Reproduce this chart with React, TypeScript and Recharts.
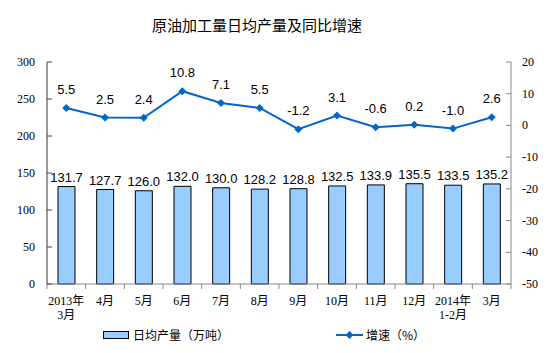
import React from "react";
import { ComposedChart, Bar, Line, XAxis, YAxis, LabelList } from "recharts";

const categories = ["2013年\n3月", "4月", "5月", "6月", "7月", "8月", "9月", "10月", "11月", "12月", "2014年\n1-2月", "3月"];
const dailyOutput = [131.7, 127.7, 126.0, 132.0, 130.0, 128.2, 128.8, 132.5, 133.9, 135.5, 133.5, 135.2];
const growth = [5.5, 2.5, 2.4, 10.8, 7.1, 5.5, -1.2, 3.1, -0.6, 0.2, -1.0, 2.6];
const leftTicks = [0, 50, 100, 150, 200, 250, 300];
const rightTicks = [-50, -40, -30, -20, -10, 0, 10, 20];

const data = categories.map((c, i) => ({ name: c, output: dailyOutput[i], growth: growth[i] }));

const SERIF = "'Liberation Serif', 'Noto Sans CJK SC', serif";
const SANS = "'Liberation Sans', Arial, sans-serif";
const CJK = "'Noto Sans CJK SC', sans-serif";

const LeftTick = (props: any) => {
  const { x, y, payload } = props;
  return (
    <g>
      <line x1={x + 12} x2={x + 17} y1={y} y2={y} stroke="#444" />
      <text x={x} y={y} dy={4} textAnchor="end" fontSize={12} fontFamily={SERIF} fill="#000">
        {payload.value}
      </text>
    </g>
  );
};

const RightTick = (props: any) => {
  const { x, y, payload } = props;
  return (
    <g>
      <line x1={x - 11} x2={x - 16} y1={y} y2={y} stroke="#888" />
      <text x={x} y={y} dy={4} textAnchor="start" fontSize={12} fontFamily={SERIF} fill="#000">
        {payload.value}
      </text>
    </g>
  );
};

const XTick = (props: any) => {
  const { x, y, payload, index, width } = props;
  const bw = (width || 464) / categories.length;
  const lines = String(payload.value).split("\n");
  const axisY = y - 6;
  return (
    <g>
      <line x1={x - bw / 2} x2={x - bw / 2} y1={axisY} y2={axisY + 5} stroke="#888" />
      {index === categories.length - 1 && (
        <line x1={x + bw / 2} x2={x + bw / 2} y1={axisY} y2={axisY + 5} stroke="#888" />
      )}
      {lines.map((l, i) => (
        <text key={i} x={x} y={axisY + 21 + i * 14} textAnchor="middle" fontSize={12} fontFamily={SERIF} fill="#000">
          {l}
        </text>
      ))}
    </g>
  );
};

const Diamond = (props: any) => {
  const { cx, cy } = props;
  if (cx == null || cy == null) return null;
  const r = 4;
  return <path d={`M${cx},${cy - r}L${cx + r},${cy}L${cx},${cy + r}L${cx - r},${cy}Z`} fill="#0066CC" />;
};

export default function App() {
  return (
    <div style={{ position: "absolute", left: 0, top: 0, width: 554, height: 353, background: "#fff" }}>
      <div
        style={{
          position: "absolute",
          left: 0,
          width: 514,
          top: 14,
          textAlign: "center",
          fontFamily: CJK,
          fontSize: 15,
          color: "#000",
          lineHeight: "22px",
        }}
      >
        原油加工量日均产量及同比增速
      </div>
      <ComposedChart
        width={554}
        height={353}
        data={data}
        margin={{ top: 62, right: 0, bottom: 0, left: 0 }}
      >
        <XAxis
          dataKey="name"
          xAxisId="x"
          interval={0}
          height={69}
          axisLine={{ stroke: "#888" }}
          tickLine={false}
          tickSize={0}
          tickMargin={6}
          tick={<XTick />}
        />
        <YAxis
          yAxisId="left"
          orientation="left"
          width={47}
          domain={[0, 300]}
          ticks={leftTicks}
          interval={0}
          axisLine={{ stroke: "#333" }}
          tickLine={false}
          tickSize={0}
          tickMargin={12}
          tick={<LeftTick />}
        />
        <YAxis
          yAxisId="right"
          orientation="right"
          width={43}
          domain={[-50, 20]}
          ticks={rightTicks}
          interval={0}
          axisLine={{ stroke: "#888" }}
          tickLine={false}
          tickSize={0}
          tickMargin={11}
          tick={<RightTick />}
        />
        <Bar
          dataKey="output"
          xAxisId="x"
          yAxisId="left"
          barSize={17}
          fill="#99CCFF"
          stroke="#000"
          strokeWidth={1}
          isAnimationActive={false}
        >
          <LabelList
            dataKey="output"
            position="top"
            offset={5}
            formatter={(v: any) => Number(v).toFixed(1)}
            style={{ fontSize: 13, fontFamily: SANS, fill: "#000" }}
          />
        </Bar>
        <Line
          dataKey="growth"
          xAxisId="x"
          yAxisId="right"
          stroke="#0066CC"
          strokeWidth={2}
          dot={<Diamond />}
          activeDot={false}
          isAnimationActive={false}
        >
          <LabelList
            dataKey="growth"
            position="top"
            offset={14}
            formatter={(v: any) => Number(v).toFixed(1)}
            style={{ fontSize: 13, fontFamily: SANS, fill: "#000" }}
          />
        </Line>
      </ComposedChart>
      <div style={{ position: "absolute", left: 103, top: 331, width: 24, height: 6, background: "#99CCFF", border: "1px solid #000" }} />
      <div style={{ position: "absolute", left: 133, top: 326, fontFamily: CJK, fontSize: 12, lineHeight: "18px", color: "#000" }}>
        日均产量（万吨）
      </div>
      <svg style={{ position: "absolute", left: 334, top: 328 }} width={32} height={14}>
        <line x1={2} x2={29} y1={7} y2={7} stroke="#0066CC" strokeWidth={2} />
        <path d="M15.5,3L19.5,7L15.5,11L11.5,7Z" fill="#0066CC" />
      </svg>
      <div style={{ position: "absolute", left: 366, top: 326, fontFamily: CJK, fontSize: 12, lineHeight: "18px", color: "#000" }}>
        增速（%）
      </div>
    </div>
  );
}
